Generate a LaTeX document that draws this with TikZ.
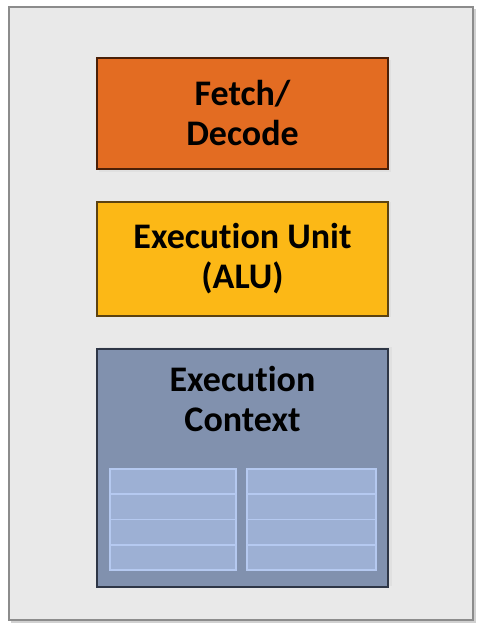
\documentclass[tikz,border=0pt]{standalone}
\usepackage{fontspec}
\setmainfont[Ligatures=NoCommon]{Carlito}
\usetikzlibrary{positioning}

\definecolor{panelGray}{HTML}{E9E9E9}
\definecolor{panelEdge}{HTML}{8C8C8C}
\definecolor{fetchOrange}{HTML}{E36C22}
\definecolor{fetchEdge}{HTML}{4A2008}
\definecolor{aluYellow}{HTML}{FCB816}
\definecolor{aluEdge}{HTML}{5C4210}
\definecolor{ctxBlue}{HTML}{8191AE}
\definecolor{ctxEdge}{HTML}{2E3646}
\definecolor{regFill}{HTML}{9DB0D4}
\definecolor{regEdge}{HTML}{B5C9F0}

\tikzset{
	label font/.style={font=\fontsize{36}{40}\selectfont\bfseries, text=black},
	unit/.style={draw, line width=2pt, minimum width=291pt, align=center, label font},
	reg/.style={draw=regEdge, fill=regFill, line width=1.6pt}
}

\begin{document}
\begin{tikzpicture}[x=1pt, y=-1pt]
		\useasboundingbox (0,0) rectangle (480,628);
		\fill[white] (0,0) rectangle (480,628);
		
		% Outer core panel
		\fill[black!18] (11,9) rectangle (476,623);
		\draw[panelEdge, line width=2pt, fill=panelGray] (9,7) rectangle (473,620);
		
		% Drop shadows
		\fill[black!12] (99,60) rectangle (391,172);
		\fill[black!12] (99,202) rectangle (391,317);
		\fill[black!12] (99,347) rectangle (392,586);
		
		% Fetch / decode unit
		\node[unit, fill=fetchOrange, draw=fetchEdge, minimum height=111pt,
			anchor=north west] (fetch) at (96,57) {Fetch/\\Decode};
		
		% Execution unit
		\node[unit, fill=aluYellow, draw=aluEdge, minimum height=114pt,
			below=31pt of fetch] (alu) {Execution Unit\\(ALU)};
		
		% Execution context
		\node[unit, fill=ctxBlue, draw=ctxEdge, minimum height=238pt,
			below=31pt of alu] (ctx) {};
		\node[label font, align=center, inner sep=0pt,
			below=18pt of ctx.north] (ctxlabel) {Execution\\Context};
		
		% Register file: two columns of four rows
		\def\regH{25.25} % row height
		\foreach \x/\w in {110/126, 247/129} {
			\foreach \r in {0,1,2,3} {
				\draw[reg] (\x, 469 + \r*\regH) rectangle (\x + \w, 469 + \r*\regH + \regH);
			}
		}
	\end{tikzpicture}
\end{document}
